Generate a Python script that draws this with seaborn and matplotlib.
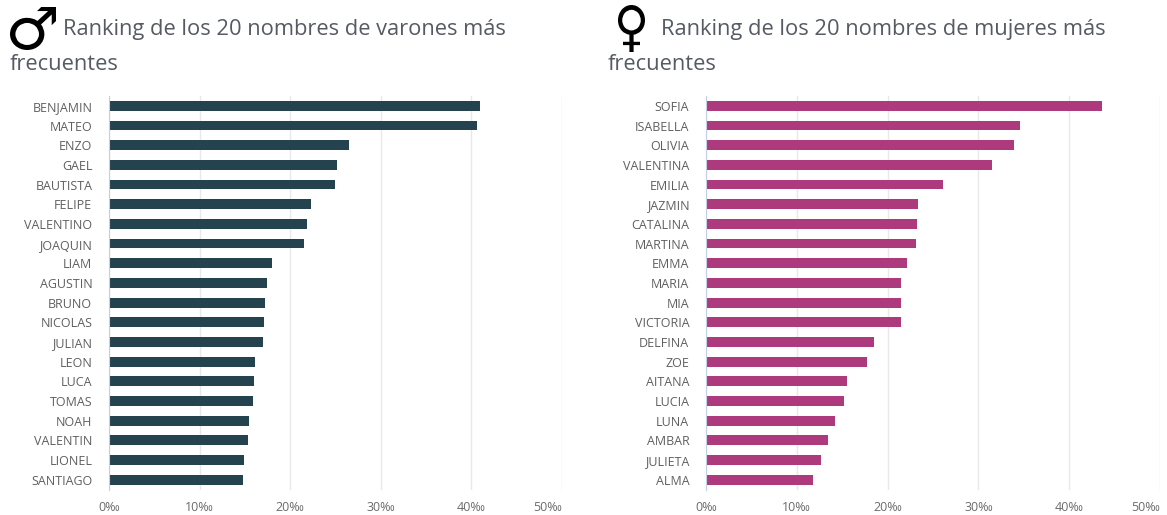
import matplotlib
matplotlib.use('Agg')
import pandas as pd
import seaborn as sns
from matplotlib import pyplot as plt
from matplotlib.patches import PathPatch
from matplotlib.textpath import TextPath
from matplotlib.font_manager import FontProperties
from matplotlib.transforms import Affine2D

varones = ['BENJAMIN', 'MATEO', 'ENZO', 'GAEL', 'BAUTISTA', 'FELIPE', 'VALENTINO', 'JOAQUIN', 'LIAM', 'AGUSTIN',
           'BRUNO', 'NICOLAS', 'JULIAN', 'LEON', 'LUCA', 'TOMAS', 'NOAH', 'VALENTIN', 'LIONEL', 'SANTIAGO']
varones_val = [41.0, 40.6, 26.5, 25.2, 24.9, 22.3, 21.8, 21.5, 18.0, 17.4,
               17.2, 17.1, 17.0, 16.1, 16.0, 15.9, 15.5, 15.3, 14.9, 14.8]

mujeres = ['SOFIA', 'ISABELLA', 'OLIVIA', 'VALENTINA', 'EMILIA', 'JAZMIN', 'CATALINA', 'MARTINA', 'EMMA', 'MARIA',
           'MIA', 'VICTORIA', 'DELFINA', 'ZOE', 'AITANA', 'LUCIA', 'LUNA', 'AMBAR', 'JULIETA', 'ALMA']
mujeres_val = [43.6, 34.6, 33.9, 31.5, 26.1, 23.3, 23.2, 23.1, 22.1, 21.5,
               21.5, 21.5, 18.5, 17.7, 15.5, 15.2, 14.2, 13.4, 12.7, 11.8]

ticks = [0, 10, 20, 30, 40, 50]
tick_labels = ['0‰', '10‰', '20‰', '30‰', '40‰', '50‰']

W, H = 1167, 515

sns.set_theme(style='white')
plt.rcParams['font.family'] = ['Open Sans', 'DejaVu Sans']

fig = plt.figure(figsize=(W / 100, H / 100), dpi=100)


def icon(symbol, x0, x1, y0, y1):
    # the sex symbols are pictures in the original, so fit the glyph outline to its pixel box
    path = TextPath((0, 0), symbol, size=100, prop=FontProperties(family='DejaVu Sans'))
    box = path.get_extents()
    tr = (Affine2D().translate(-box.x0, -box.y0)
          .scale((x1 - x0) / box.width, (y1 - y0) / box.height)
          .translate(x0, H - y1))
    fig.add_artist(PathPatch(path, transform=tr, facecolor='black', edgecolor='none'))


def panel(names, vals, color, left, right, title_x, wrap_x, title):
    # pixel box of the plot area -> figure fractions
    top, bottom = 96, 489.5
    ax = fig.add_axes([left / W, 1 - bottom / H, (right - left) / W, (bottom - top) / H])
    df = pd.DataFrame({'nombre': names, 'valor': vals})
    sns.barplot(data=df, x='valor', y='nombre', color=color, saturation=1, width=0.5, linewidth=0, ax=ax)
    ax.set_xlim(0, 50)
    ax.set_ylim(19.5, -0.5)
    ax.set_xlabel('')
    ax.set_ylabel('')
    ax.set_xticks(ticks)
    ax.set_xticklabels(tick_labels, fontsize=9, color='#6b6b6b')
    ax.get_xticklabels()[-1].set_ha('right')
    ax.tick_params(axis='y', length=0, pad=12, labelsize=9, labelcolor='#5f5f5f')
    ax.tick_params(axis='x', length=0, pad=8)
    ax.xaxis.grid(True, color='#e9e9e9', linewidth=1)
    ax.set_axisbelow(True)
    sns.despine(ax=ax, top=True, right=True, bottom=True)
    ax.spines['left'].set_color('#c3cfe8')
    ax.spines['left'].set_linewidth(0.8)

    fig.text(title_x / W, 1 - 35 / H, title, fontsize=15.75, color='#555a63', va='baseline', ha='left')
    fig.text(wrap_x / W, 1 - 70 / H, 'frecuentes', fontsize=15.75, color='#555a63', va='baseline', ha='left')


panel(varones, varones_val, '#25424f', 109, 562, 63, 10, 'Ranking de los 20 nombres de varones más')
panel(mujeres, mujeres_val, '#ae3a7e', 706, 1160, 661, 608, 'Ranking de los 20 nombres de mujeres más')
icon('♂', 10, 56, 7, 50)
icon('♀', 618, 645, 5, 52)

fig.savefig('out.png', dpi=100)
